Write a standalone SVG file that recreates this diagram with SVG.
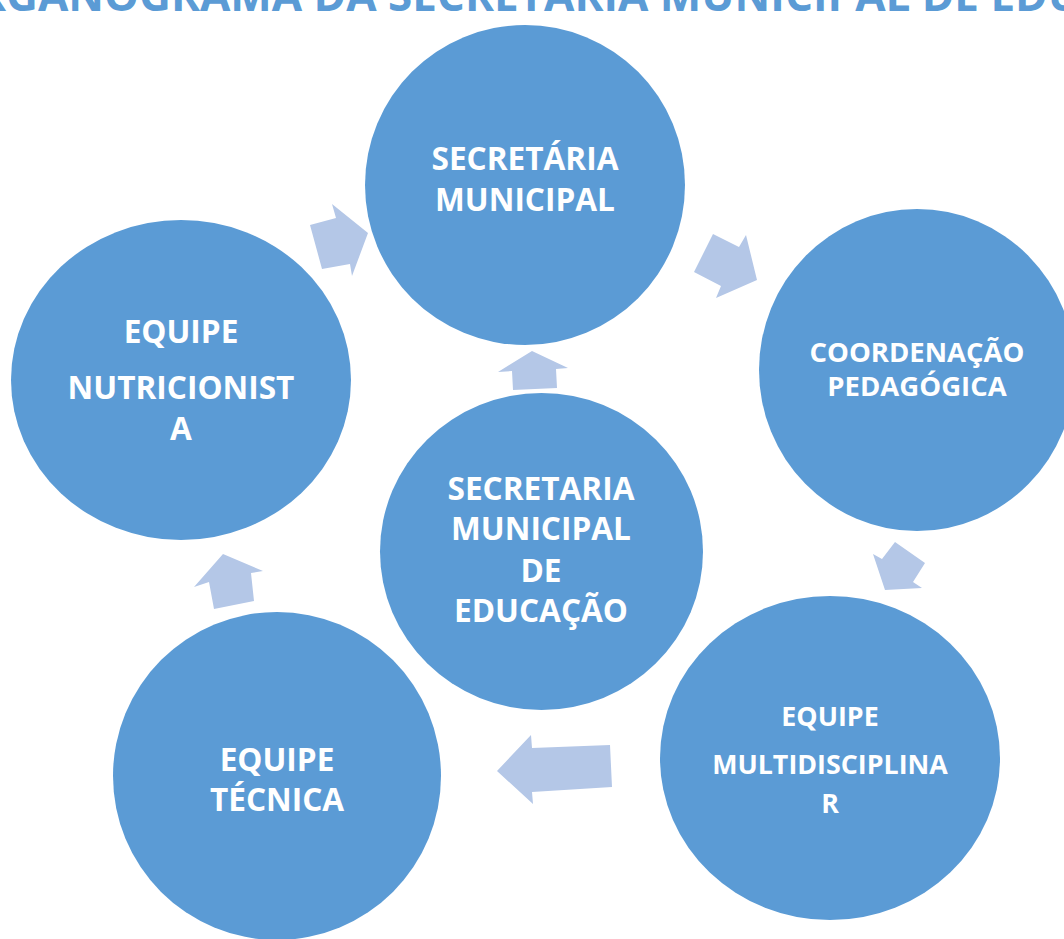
<svg xmlns="http://www.w3.org/2000/svg" width="1064" height="939" viewBox="0 0 1064 939">
<style>
.node{fill:#5B9BD5;}
.arr{fill:#B4C7E7;}
.t{font-family:"Open Sans","DejaVu Sans",sans-serif;font-weight:bold;fill:#FFFFFF;text-anchor:middle;}
.title{font-family:"Open Sans","DejaVu Sans",sans-serif;font-weight:bold;fill:#5B9BD5;font-size:44px;}
</style>
<rect width="1064" height="939" fill="#FFFFFF"/>
<text class="title" x="-58" y="11">ORGANOGRAMA DA SECRETARIA MUNICIPAL DE EDUCAÇÃO</text>
<g id="connectors">
<polygon class="arr" points="310,225 336,218 332,204 368,233 352,276 350,264 322,269"/>
<polygon class="arr" points="713,234 739,247 746,235 757,280 716,298 721,286 694,272"/>
<polygon class="arr" points="895,542 925,563 913,582 922,588 885,590 873,554 882,559"/>
<polygon class="arr" points="610,745 532,748 531,735 497,771 533,804 532,792 612,787"/>
<polygon class="arr" points="223,554 263,571 251,573 254,601 214,609 209,582 194,587"/>
<polygon class="arr" points="532,351 568,368 556,369 557,388 513,390 512,371 498,372"/>
</g>
<g id="node-secretaria-municipal">
<ellipse class="node" cx="525" cy="185" rx="160" ry="160"/>
<text class="t" font-size="31.6" x="525" y="170">SECRETÁRIA</text>
<text class="t" font-size="31.6" x="525" y="211">MUNICIPAL</text>
</g>
<g id="node-coordenacao">
<ellipse class="node" cx="917" cy="370" rx="158" ry="161"/>
<text class="t" font-size="27.5" x="917" y="362">COORDENAÇÃO</text>
<text class="t" font-size="27.5" x="917" y="396">PEDAGÓGICA</text>
</g>
<g id="node-multidisciplinar">
<ellipse class="node" cx="830" cy="758" rx="170" ry="162"/>
<text class="t" font-size="26.8" x="830" y="726">EQUIPE</text>
<text class="t" font-size="26.8" x="830" y="774">MULTIDISCIPLINA</text>
<text class="t" font-size="26.8" x="830" y="813">R</text>
</g>
<g id="node-tecnica">
<ellipse class="node" cx="277" cy="776" rx="164" ry="164"/>
<text class="t" font-size="31.6" x="277" y="771">EQUIPE</text>
<text class="t" font-size="31.6" x="277" y="811">TÉCNICA</text>
</g>
<g id="node-nutricionista">
<ellipse class="node" cx="181" cy="380" rx="170" ry="160"/>
<text class="t" font-size="31.6" x="181" y="343">EQUIPE</text>
<text class="t" font-size="31.6" x="181" y="399">NUTRICIONIST</text>
<text class="t" font-size="31.6" x="181" y="440">A</text>
</g>
<g id="node-centro">
<ellipse class="node" cx="541.5" cy="551.5" rx="161.5" ry="158.5"/>
<text class="t" font-size="31.6" x="541" y="500">SECRETARIA</text>
<text class="t" font-size="31.6" x="541" y="540">MUNICIPAL</text>
<text class="t" font-size="31.6" x="541" y="582">DE</text>
<text class="t" font-size="31.6" x="541" y="622">EDUCAÇÃO</text>
</g>
</svg>
